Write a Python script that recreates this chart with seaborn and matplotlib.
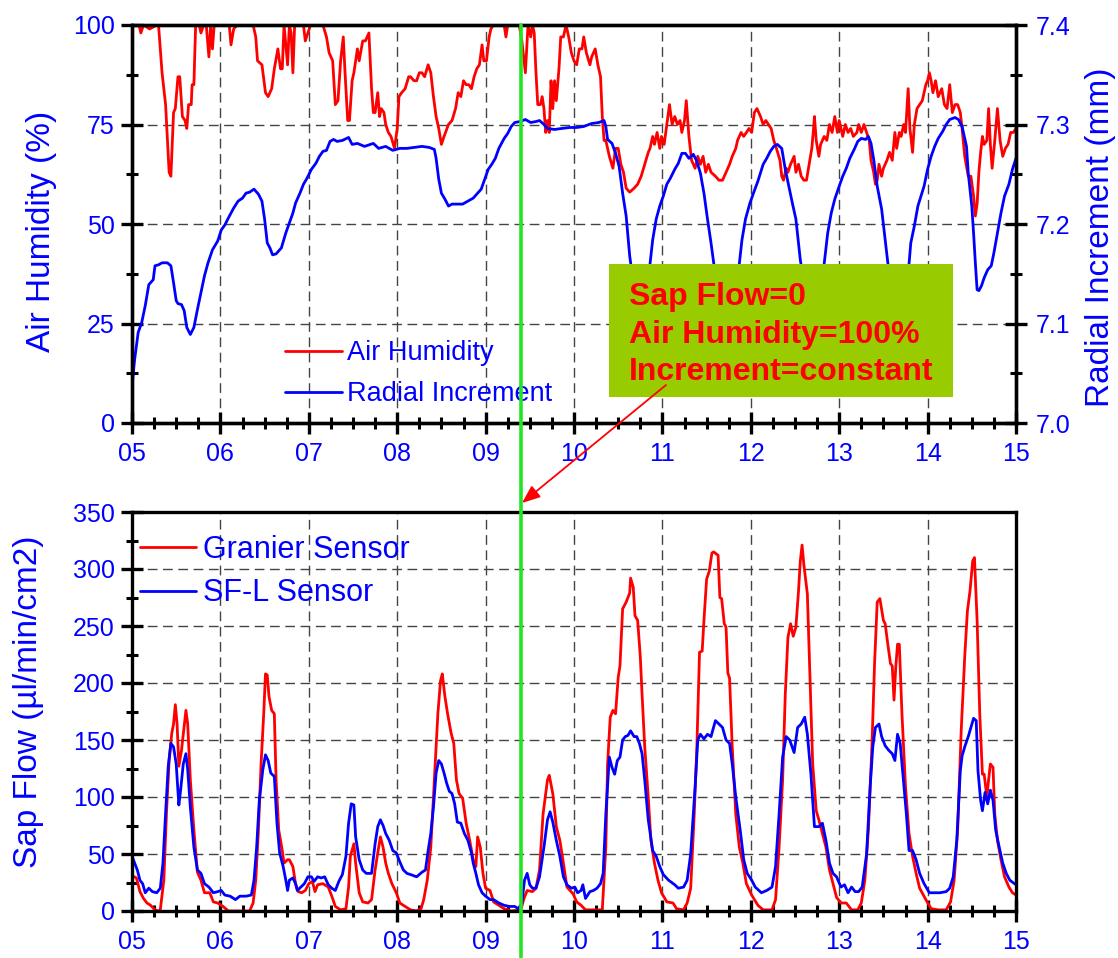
import seaborn as sns
import matplotlib.pyplot as plt
import matplotlib.transforms as mtransforms
from matplotlib.ticker import MultipleLocator
from matplotlib.patches import Rectangle, FancyArrowPatch
from matplotlib.lines import Line2D

# ---- data ----
hum_day = [5.00, 5.08, 5.10, 5.13, 5.20, 5.28, 5.30, 5.34, 5.38, 5.42, 5.44, 5.47, 5.49, 5.52, 5.54, 5.57,
           5.60, 5.62, 5.64, 5.67, 5.68, 5.70, 5.72, 5.76, 5.78, 5.81, 5.84, 5.87, 5.89, 5.91, 5.93, 6.10,
           6.12, 6.15, 6.19, 6.37, 6.40, 6.42, 6.47, 6.51, 6.54, 6.58, 6.61, 6.65, 6.68, 6.70, 6.72, 6.76,
           6.78, 6.80, 6.82, 6.84, 6.94, 6.96, 6.99, 7.02, 7.16, 7.20, 7.23, 7.27, 7.30, 7.33, 7.36, 7.39,
           7.41, 7.44, 7.46, 7.49, 7.51, 7.55, 7.57, 7.61, 7.64, 7.68, 7.71, 7.73, 7.75, 7.78, 7.80, 7.82,
           7.85, 7.87, 7.90, 7.93, 7.97, 8.00, 8.02, 8.05, 8.09, 8.13, 8.15, 8.19, 8.22, 8.25, 8.28, 8.31,
           8.35, 8.38, 8.41, 8.44, 8.47, 8.50, 8.53, 8.58, 8.62, 8.66, 8.69, 8.72, 8.75, 8.78, 8.81, 8.84,
           8.87, 8.90, 8.93, 8.96, 8.98, 9.01, 9.04, 9.06, 9.09, 9.21, 9.23, 9.25, 9.38, 9.41, 9.45, 9.48,
           9.51, 9.53, 9.55, 9.57, 9.59, 9.62, 9.64, 9.66, 9.68, 9.70, 9.72, 9.74, 9.76, 9.78, 9.80, 9.83,
           9.85, 9.88, 9.91, 9.94, 9.97, 10.00, 10.03, 10.06, 10.09, 10.11, 10.14, 10.18, 10.20, 10.24, 10.27,
           10.30, 10.32, 10.34, 10.36, 10.38, 10.40, 10.44, 10.47, 10.50, 10.53, 10.56, 10.59, 10.63, 10.68,
           10.72, 10.76, 10.80, 10.84, 10.86, 10.89, 10.91, 10.94, 10.97, 10.99, 11.02, 11.05, 11.08, 11.11,
           11.14, 11.17, 11.20, 11.22, 11.25, 11.27, 11.30, 11.33, 11.37, 11.40, 11.43, 11.46, 11.49, 11.52,
           11.55, 11.60, 11.64, 11.68, 11.72, 11.76, 11.79, 11.83, 11.85, 11.89, 11.92, 11.95, 11.98, 12.01,
           12.04, 12.07, 12.11, 12.14, 12.17, 12.20, 12.23, 12.26, 12.29, 12.33, 12.35, 12.37, 12.40, 12.42,
           12.45, 12.49, 12.51, 12.54, 12.57, 12.60, 12.63, 12.66, 12.69, 12.71, 12.72, 12.74, 12.77, 12.79,
           12.83, 12.86, 12.89, 12.92, 12.95, 12.98, 13.00, 13.04, 13.07, 13.10, 13.13, 13.16, 13.20, 13.22,
           13.25, 13.28, 13.31, 13.34, 13.36, 13.39, 13.41, 13.43, 13.45, 13.48, 13.50, 13.54, 13.57, 13.60,
           13.63, 13.65, 13.68, 13.70, 13.73, 13.75, 13.78, 13.80, 13.83, 13.85, 13.88, 13.91, 13.94, 13.98,
           14.00, 14.02, 14.04, 14.06, 14.09, 14.12, 14.16, 14.19, 14.22, 14.25, 14.28, 14.31, 14.34, 14.37,
           14.39, 14.42, 14.46, 14.49, 14.52, 14.54, 14.56, 14.58, 14.60, 14.62, 14.64, 14.67, 14.69, 14.71,
           14.73, 14.76, 14.79, 14.82, 14.85, 14.88, 14.91, 14.94, 14.97, 15.00]
hum_val = [100, 100, 98, 100, 99, 100, 100, 88, 80, 63, 62, 78, 79, 87, 87, 77,
           76, 74, 80, 80, 85, 85, 100, 100, 98, 100, 100, 92, 100, 94, 100, 100,
           95, 99, 100, 100, 97, 91, 90, 83, 82, 84, 89, 94, 89, 89, 100, 90,
           100, 98, 88, 100, 100, 96, 98, 100, 100, 97, 93, 91, 80, 81, 91, 97,
           88, 76, 76, 86, 88, 94, 91, 96, 96, 98, 84, 78, 78, 83, 77, 79,
           78, 75, 73, 72, 69, 74, 82, 83, 84, 87, 87, 86, 86, 88, 88, 87,
           90, 88, 82, 77, 74, 70, 72, 75, 76, 79, 83, 82, 86, 85, 85, 84,
           87, 89, 90, 95, 91, 91, 97, 99, 100, 100, 97, 100, 100, 96, 88, 100,
           97, 100, 98, 88, 80, 80, 82, 79, 73, 76, 73, 86, 79, 86, 81, 89,
           97, 97, 100, 97, 93, 91, 90, 94, 94, 97, 93, 90, 92, 94, 90,
           87, 77, 71, 71, 69, 67, 64, 69, 69, 65, 63, 59, 58, 59,
           60, 62, 65, 68, 69, 72, 70, 73, 69, 72, 70, 75, 80, 75,
           77, 75, 76, 73, 76, 81, 72, 66, 64, 67, 65, 67, 63, 65,
           63, 62, 61, 61, 63, 65, 67, 69, 71, 73, 72, 73, 74, 73,
           78, 79, 77, 75, 76, 75, 74, 71, 69, 66, 62, 61, 64, 63,
           65, 67, 63, 65, 62, 61, 61, 65, 69, 74, 77, 71, 67, 70,
           72, 71, 75, 73, 77, 73, 76, 72, 75, 73, 74, 72, 73, 75,
           73, 75, 73, 71, 66, 63, 60, 61, 65, 62, 64, 66, 68, 66,
           73, 69, 73, 72, 75, 73, 84, 74, 68, 75, 79, 80, 81, 85,
           86, 88, 86, 83, 86, 82, 84, 80, 79, 85, 78, 80, 80, 78,
           74, 67, 62, 62, 57, 52, 55, 63, 68, 72, 70, 71, 79, 70,
           64, 71, 79, 71, 67, 69, 70, 73, 73, 74]

inc_day = [5.00, 5.03, 5.07, 5.11, 5.15, 5.19, 5.24, 5.26, 5.30, 5.34, 5.40, 5.44, 5.47, 5.50, 5.52, 5.56,
           5.59, 5.62, 5.66, 5.70, 5.74, 5.78, 5.82, 5.86, 5.91, 5.97, 6.01, 6.05, 6.09, 6.15, 6.20, 6.25,
           6.29, 6.33, 6.38, 6.43, 6.47, 6.50, 6.53, 6.56, 6.59, 6.63, 6.69, 6.74, 6.78, 6.82, 6.85, 6.90,
           6.94, 6.98, 7.03, 7.08, 7.12, 7.16, 7.20, 7.24, 7.28, 7.32, 7.38, 7.45, 7.49, 7.55, 7.63, 7.73,
           7.79, 7.87, 7.95, 8.03, 8.11, 8.20, 8.28, 8.36, 8.42, 8.44, 8.47, 8.50, 8.54, 8.58, 8.62, 8.68,
           8.74, 8.80, 8.86, 8.90, 8.95, 8.99, 9.03, 9.07, 9.11, 9.15, 9.21, 9.25, 9.29, 9.33, 9.39, 9.45,
           9.51, 9.57, 9.61, 9.66, 9.70, 9.78, 9.86, 9.95, 10.03, 10.11, 10.20, 10.28, 10.34, 10.36, 10.38,
           10.43, 10.47, 10.51, 10.55, 10.59, 10.63, 10.68, 10.74, 10.80, 10.86, 10.89, 10.93, 10.97, 11.01,
           11.05, 11.09, 11.14, 11.18, 11.22, 11.26, 11.30, 11.35, 11.39, 11.43, 11.47, 11.51, 11.55, 11.58,
           11.64, 11.72, 11.80, 11.87, 11.90, 11.94, 11.99, 12.03, 12.08, 12.14, 12.18, 12.22, 12.26, 12.30,
           12.35, 12.39, 12.43, 12.47, 12.51, 12.56, 12.62, 12.70, 12.78, 12.83, 12.87, 12.91, 12.95, 13.00,
           13.04, 13.08, 13.12, 13.17, 13.21, 13.25, 13.30, 13.33, 13.36, 13.39, 13.43, 13.48, 13.52, 13.55,
           13.62, 13.68, 13.74, 13.79, 13.81, 13.85, 13.89, 13.96, 14.00, 14.04, 14.08, 14.12, 14.17, 14.21,
           14.25, 14.31, 14.35, 14.39, 14.44, 14.46, 14.50, 14.52, 14.54, 14.56, 14.58, 14.61, 14.64, 14.68,
           14.72, 14.75, 14.79, 14.83, 14.87, 14.92, 14.96, 15.00]
inc_val = [7.037, 7.064, 7.091, 7.101, 7.118, 7.139, 7.144, 7.158, 7.159, 7.161, 7.161, 7.158, 7.141, 7.123,
           7.120, 7.119, 7.113, 7.096, 7.089, 7.096, 7.114, 7.131, 7.148, 7.161, 7.174, 7.183, 7.194, 7.199,
           7.206, 7.216, 7.223, 7.226, 7.231, 7.232, 7.235, 7.230, 7.223, 7.205, 7.181, 7.176, 7.169, 7.170,
           7.176, 7.191, 7.201, 7.211, 7.221, 7.231, 7.240, 7.246, 7.255, 7.261, 7.268, 7.273, 7.274, 7.283,
           7.285, 7.283, 7.284, 7.287, 7.280, 7.281, 7.278, 7.281, 7.276, 7.278, 7.274, 7.276, 7.276, 7.277,
           7.278, 7.277, 7.275, 7.266, 7.245, 7.231, 7.225, 7.218, 7.220, 7.220, 7.220, 7.223, 7.226, 7.230,
           7.235, 7.245, 7.255, 7.260, 7.266, 7.276, 7.286, 7.291, 7.298, 7.302, 7.303, 7.305, 7.302, 7.303,
           7.304, 7.300, 7.296, 7.295, 7.296, 7.297, 7.297, 7.298, 7.301, 7.302, 7.304, 7.298, 7.285, 7.281,
           7.271, 7.258, 7.231, 7.208, 7.168, 7.135, 7.115, 7.125, 7.160, 7.184, 7.205, 7.218, 7.228, 7.240,
           7.246, 7.255, 7.261, 7.271, 7.271, 7.266, 7.270, 7.263, 7.251, 7.231, 7.205, 7.181, 7.161, 7.130,
           7.115, 7.130, 7.160, 7.184, 7.205, 7.221, 7.231, 7.243, 7.260, 7.266, 7.273, 7.278, 7.280, 7.276,
           7.255, 7.238, 7.221, 7.205, 7.164, 7.130, 7.115, 7.135, 7.160, 7.191, 7.211, 7.225, 7.238, 7.248,
           7.256, 7.266, 7.275, 7.283, 7.286, 7.285, 7.288, 7.281, 7.265, 7.238, 7.215, 7.184, 7.161, 7.125,
           7.115, 7.135, 7.160, 7.181, 7.198, 7.218, 7.238, 7.255, 7.268, 7.278, 7.286, 7.293, 7.300, 7.305,
           7.307, 7.305, 7.298, 7.278, 7.251, 7.218, 7.191, 7.161, 7.134, 7.133, 7.138, 7.146, 7.154, 7.158,
           7.171, 7.191, 7.211, 7.228, 7.240, 7.255, 7.266]

gran_day = [5.00, 5.05, 5.09, 5.13, 5.17, 5.21, 5.26, 5.30, 5.32, 5.36, 5.39, 5.42, 5.45, 5.47, 5.49, 5.51,
            5.53, 5.56, 5.59, 5.61, 5.63, 5.66, 5.70, 5.74, 5.78, 5.82, 5.88, 5.92, 5.97, 6.03, 6.09, 6.33,
            6.37, 6.40, 6.43, 6.46, 6.49, 6.51, 6.53, 6.55, 6.58, 6.61, 6.63, 6.66, 6.70, 6.72, 6.76, 6.78,
            6.82, 6.85, 6.88, 6.92, 6.96, 7.00, 7.04, 7.07, 7.10, 7.16, 7.22, 7.26, 7.30, 7.36, 7.42, 7.45,
            7.47, 7.51, 7.53, 7.57, 7.61, 7.67, 7.71, 7.75, 7.78, 7.81, 7.84, 7.87, 7.90, 7.94, 7.99, 8.03,
            8.09, 8.15, 8.22, 8.27, 8.30, 8.34, 8.38, 8.42, 8.46, 8.49, 8.51, 8.54, 8.57, 8.61, 8.64, 8.67,
            8.70, 8.74, 8.78, 8.82, 8.86, 8.89, 8.91, 8.94, 8.97, 9.00, 9.05, 9.09, 9.15, 9.21, 9.29, 9.40,
            9.43, 9.47, 9.53, 9.57, 9.61, 9.65, 9.70, 9.72, 9.76, 9.80, 9.84, 9.88, 9.92, 9.99, 10.03, 10.08,
            10.13, 10.24, 10.32, 10.36, 10.38, 10.41, 10.44, 10.47, 10.50, 10.52, 10.55, 10.59, 10.63, 10.64,
            10.67, 10.69, 10.72, 10.75, 10.77, 10.80, 10.84, 10.87, 10.91, 10.95, 10.99, 11.05, 11.12, 11.16,
            11.24, 11.28, 11.32, 11.36, 11.39, 11.42, 11.45, 11.47, 11.50, 11.53, 11.56, 11.58, 11.63, 11.65,
            11.67, 11.70, 11.72, 11.74, 11.76, 11.79, 11.83, 11.87, 11.91, 11.95, 12.01, 12.08, 12.14, 12.24,
            12.28, 12.32, 12.36, 12.39, 12.42, 12.45, 12.48, 12.51, 12.54, 12.56, 12.58, 12.60, 12.64, 12.67,
            12.70, 12.74, 12.77, 12.81, 12.85, 12.89, 12.93, 12.97, 13.02, 13.08, 13.14, 13.21, 13.25, 13.29,
            13.33, 13.37, 13.40, 13.43, 13.46, 13.50, 13.52, 13.55, 13.58, 13.60, 13.62, 13.64, 13.66, 13.68,
            13.71, 13.75, 13.79, 13.83, 13.87, 13.91, 13.98, 14.04, 14.12, 14.21, 14.26, 14.30, 14.34, 14.38,
            14.42, 14.45, 14.48, 14.51, 14.53, 14.56, 14.59, 14.62, 14.64, 14.67, 14.69, 14.71, 14.74, 14.76,
            14.79, 14.83, 14.87, 14.92, 14.96, 15.00]
gran_val = [31, 29, 17, 11, 7, 5, 1, 0, 1, 27, 86, 132, 156, 164, 181, 164,
            127, 141, 162, 176, 164, 115, 71, 34, 27, 16, 16, 8, 7, 4, 0, 0,
            7, 27, 71, 129, 173, 208, 207, 188, 176, 173, 115, 71, 53, 42, 45, 45,
            39, 24, 17, 16, 18, 24, 26, 17, 23, 24, 21, 13, 4, 1, 2, 21,
            48, 59, 42, 16, 8, 7, 10, 36, 51, 65, 56, 42, 33, 24, 16, 7,
            4, 1, 0, 2, 10, 27, 56, 115, 173, 202, 208, 188, 173, 156, 147, 115,
            103, 99, 77, 62, 45, 39, 65, 56, 33, 20, 18, 8, 5, 2, 0, 1,
            10, 18, 17, 20, 36, 85, 115, 119, 103, 74, 62, 42, 21, 15, 8, 5,
            1, 1, 1, 56, 129, 170, 176, 173, 205, 215, 265, 271, 279, 292,
            284, 259, 255, 223, 190, 144, 100, 62, 42, 27, 16, 8, 7, 2,
            1, 7, 20, 85, 144, 227, 228, 255, 291, 298, 314, 315, 312, 275,
            274, 252, 249, 209, 204, 144, 85, 56, 42, 24, 14, 5, 1, 1,
            10, 56, 115, 190, 240, 252, 241, 249, 281, 307, 321, 304, 278, 202,
            129, 88, 80, 68, 56, 36, 24, 12, 7, 7, 1, 1, 7, 27,
            71, 144, 217, 271, 274, 255, 252, 234, 217, 215, 185, 214, 234, 234,
            173, 109, 68, 48, 33, 20, 10, 2, 1, 1, 8, 27, 71, 158,
            223, 263, 281, 307, 310, 255, 173, 120, 120, 100, 115, 129, 126, 85,
            62, 45, 30, 21, 16, 14]

sfl_day = [5.00, 5.03, 5.06, 5.09, 5.12, 5.15, 5.19, 5.23, 5.28, 5.32, 5.35, 5.38, 5.41, 5.44, 5.47, 5.50,
           5.53, 5.55, 5.58, 5.61, 5.63, 5.66, 5.70, 5.74, 5.78, 5.82, 5.87, 5.92, 5.97, 6.01, 6.05, 6.11,
           6.17, 6.22, 6.29, 6.35, 6.38, 6.41, 6.44, 6.48, 6.51, 6.54, 6.57, 6.61, 6.64, 6.67, 6.71, 6.74,
           6.76, 6.78, 6.82, 6.85, 6.87, 6.91, 6.95, 6.99, 7.03, 7.06, 7.10, 7.14, 7.18, 7.22, 7.26, 7.30,
           7.34, 7.38, 7.42, 7.45, 7.48, 7.51, 7.53, 7.57, 7.61, 7.65, 7.71, 7.75, 7.78, 7.81, 7.84, 7.87,
           7.91, 7.95, 7.99, 8.03, 8.07, 8.11, 8.15, 8.22, 8.28, 8.32, 8.35, 8.38, 8.41, 8.44, 8.47, 8.50,
           8.53, 8.56, 8.59, 8.62, 8.65, 8.68, 8.72, 8.76, 8.80, 8.84, 8.86, 8.89, 8.92, 8.96, 9.00, 9.05,
           9.09, 9.15, 9.21, 9.27, 9.33, 9.37, 9.41, 9.44, 9.47, 9.50, 9.53, 9.57, 9.61, 9.66, 9.70, 9.73,
           9.76, 9.80, 9.84, 9.88, 9.92, 9.97, 10.01, 10.04, 10.08, 10.10, 10.13, 10.18, 10.22, 10.26, 10.30,
           10.33, 10.36, 10.40, 10.43, 10.46, 10.49, 10.52, 10.55, 10.58, 10.61, 10.64, 10.68, 10.71, 10.74,
           10.77, 10.80, 10.84, 10.89, 10.93, 10.97, 11.01, 11.07, 11.14, 11.18, 11.24, 11.28, 11.32, 11.37,
           11.40, 11.43, 11.47, 11.51, 11.55, 11.60, 11.64, 11.68, 11.72, 11.76, 11.79, 11.83, 11.88, 11.92,
           11.96, 12.01, 12.05, 12.12, 12.18, 12.24, 12.28, 12.32, 12.36, 12.40, 12.44, 12.49, 12.53, 12.57,
           12.61, 12.64, 12.68, 12.72, 12.77, 12.81, 12.85, 12.89, 12.93, 12.97, 13.02, 13.06, 13.10, 13.14,
           13.18, 13.22, 13.26, 13.31, 13.35, 13.38, 13.41, 13.45, 13.48, 13.52, 13.56, 13.60, 13.63, 13.66,
           13.69, 13.72, 13.76, 13.79, 13.83, 13.87, 13.91, 13.96, 14.02, 14.08, 14.14, 14.21, 14.25, 14.29,
           14.33, 14.37, 14.39, 14.42, 14.46, 14.49, 14.52, 14.55, 14.57, 14.60, 14.62, 14.65, 14.68, 14.71,
           14.74, 14.77, 14.81, 14.85, 14.89, 14.93, 15.00]
sfl_val = [48, 42, 36, 27, 24, 16, 20, 17, 16, 20, 42, 86, 127, 147, 144, 129,
           93, 106, 129, 138, 124, 91, 56, 36, 33, 24, 21, 16, 17, 18, 14, 13,
           10, 13, 13, 14, 27, 56, 97, 124, 137, 132, 121, 118, 77, 51, 39, 27,
           18, 27, 29, 24, 18, 21, 24, 30, 30, 26, 30, 29, 30, 23, 20, 18,
           26, 32, 48, 77, 94, 93, 65, 45, 36, 33, 33, 59, 74, 80, 75, 68,
           62, 53, 51, 43, 36, 33, 32, 30, 34, 36, 53, 68, 91, 121, 132, 129,
           121, 112, 105, 103, 94, 78, 77, 68, 62, 51, 42, 33, 23, 16, 13, 10,
           10, 7, 5, 4, 4, 2, 7, 27, 33, 23, 20, 20, 30, 56, 80, 87,
           78, 62, 48, 30, 23, 20, 21, 16, 18, 23, 11, 17, 18, 20, 24,
           33, 85, 135, 126, 120, 132, 135, 150, 153, 154, 158, 153, 153, 147,
           138, 115, 80, 53, 48, 39, 32, 27, 23, 20, 21, 27, 50, 109,
           150, 155, 151, 155, 153, 167, 164, 161, 150, 147, 129, 100, 71, 45,
           33, 27, 21, 16, 18, 21, 39, 85, 135, 153, 150, 139, 161, 164,
           170, 155, 120, 74, 74, 77, 62, 42, 33, 30, 21, 23, 16, 21,
           17, 17, 21, 50, 109, 144, 161, 164, 153, 145, 141, 138, 132, 155,
           147, 120, 85, 53, 53, 45, 33, 24, 16, 16, 16, 17, 20, 30,
           62, 123, 136, 144, 153, 161, 169, 167, 123, 97, 88, 104, 94, 106,
           97, 71, 56, 42, 33, 27, 23]

day_ticks = list(range(5, 16))
day_labels = ["05", "06", "07", "08", "09", "10", "11", "12", "13", "14", "15"]
hum_ticks = [0, 25, 50, 75, 100]
inc_ticks = [7.0, 7.1, 7.2, 7.3, 7.4]
inc_labels = ["7.0", "7.1", "7.2", "7.3", "7.4"]
sap_ticks = [0, 50, 100, 150, 200, 250, 300, 350]
event_day = 9.4
note_lines = ["Sap Flow=0", "Air Humidity=100%", "Increment=constant"]

RED = "#ff0000"
BLUE = "#0000ff"
GREEN = "#22e622"
BOX = "#99cc00"

sns.set_style("white")
plt.rcParams['font.family'] = ['Liberation Sans', 'DejaVu Sans']

W, H = 1118, 958
fig = plt.figure(figsize=(W / 100, H / 100), dpi=100)
ax_top = fig.add_axes([132 / W, 1 - 423 / H, 884 / W, 398 / H])
ax_bot = fig.add_axes([132 / W, 1 - 911 / H, 884 / W, 399 / H])
ax_inc = ax_top.twinx()

sns.lineplot(x=hum_day, y=hum_val, ax=ax_top, color=RED, linewidth=2,
             estimator=None, sort=False, legend=False)
sns.lineplot(x=inc_day, y=inc_val, ax=ax_inc, color=BLUE, linewidth=2,
             estimator=None, sort=False, legend=False)
sns.lineplot(x=gran_day, y=gran_val, ax=ax_bot, color=RED, linewidth=2,
             estimator=None, sort=False, legend=False)
sns.lineplot(x=sfl_day, y=sfl_val, ax=ax_bot, color=BLUE, linewidth=2,
             estimator=None, sort=False, legend=False)


def style(ax):
    for s in ax.spines.values():
        s.set_visible(True)
        s.set_color("black")
        s.set_linewidth(2.4)
    ax.tick_params(which="both", direction="inout", color="black",
                   labelcolor=BLUE, labelsize=18)
    ax.tick_params(which="major", length=16, width=2.4)
    ax.tick_params(which="minor", length=8.5, width=2.2)


for ax in (ax_top, ax_bot):
    style(ax)
    ax.set_xlim(5, 15)
    ax.set_xticks(day_ticks, labels=day_labels)
    ax.xaxis.set_minor_locator(MultipleLocator(0.25))
    ax.tick_params(axis="x", which="both", top=False, bottom=True, pad=6)
    ax.tick_params(axis="y", which="both", right=False, left=True, pad=4.5)
    ax.grid(True, which="major", color="#444444", linestyle=(0, (7, 4)), linewidth=1)
    ax.set_xlabel("")

ax_top.set_ylim(0, 100)
ax_top.set_yticks(hum_ticks)
ax_top.yaxis.set_minor_locator(MultipleLocator(12.5))

ax_bot.set_ylim(0, 350)
ax_bot.set_yticks(sap_ticks)
ax_bot.yaxis.set_minor_locator(MultipleLocator(25))

style(ax_inc)
ax_inc.set_ylim(7.0, 7.4)
ax_inc.set_yticks(inc_ticks, labels=inc_labels)
ax_inc.yaxis.set_minor_locator(MultipleLocator(0.05))
ax_inc.tick_params(axis="y", which="both", left=False, right=True, pad=6)
ax_inc.grid(False)

ax_top.set_ylabel("Air Humidity (%)", fontsize=24, color=BLUE)
ax_top.yaxis.set_label_coords(-0.085, 0.482)
ax_inc.set_ylabel("Radial Increment (mm)", fontsize=24, color=BLUE)
ax_inc.yaxis.set_label_coords(1.078, 0.467)
ax_bot.set_ylabel("Sap Flow (µl/min/cm2)", fontsize=24, color=BLUE)
ax_bot.yaxis.set_label_coords(-0.0995, 0.524)

# legends
top_handles = [Line2D([], [], color=RED, lw=2), Line2D([], [], color=BLUE, lw=2)]
ax_inc.legend(top_handles, ["Air Humidity", "Radial Increment"], loc="center left",
              bbox_to_anchor=(0.173, 0.124), frameon=False, fontsize=19.5,
              labelcolor=BLUE, handlelength=2.1, handletextpad=0.2,
              borderpad=0, borderaxespad=0, labelspacing=0.55)
ax_bot.legend(top_handles, ["Granier Sensor", "SF-L Sensor"], loc="center left",
              bbox_to_anchor=(0.009, 0.851), frameon=False, fontsize=22,
              labelcolor=BLUE, handlelength=1.85, handletextpad=0.2,
              borderpad=0, borderaxespad=0, labelspacing=0.45)

# green marker line through both panels
trans = mtransforms.blended_transform_factory(ax_top.transData, fig.transFigure)
fig.add_artist(Line2D([event_day, event_day], [0, 1 - 25 / H], transform=trans,
                      color=GREEN, lw=2.6, zorder=4))

# annotation box
fig.add_artist(Rectangle((609 / W, 1 - 397 / H), 344 / W, 133 / H, transform=fig.transFigure,
                         facecolor=BOX, edgecolor="none", zorder=5))
for txt, base in zip(note_lines, [305, 343, 380]):
    fig.text(629 / W, 1 - base / H, txt, color=RED, fontsize=23, fontweight="bold",
             va="baseline", ha="left", zorder=6)
fig.add_artist(FancyArrowPatch((666 / W, 1 - 385 / H), (522 / W, 1 - 503 / H),
                               transform=fig.transFigure,
                               arrowstyle="-|>,head_length=0.55,head_width=0.22",
                               mutation_scale=20, color=RED, lw=1.3,
                               shrinkA=0, shrinkB=0, zorder=6))

fig.savefig("out.png", dpi=100)
